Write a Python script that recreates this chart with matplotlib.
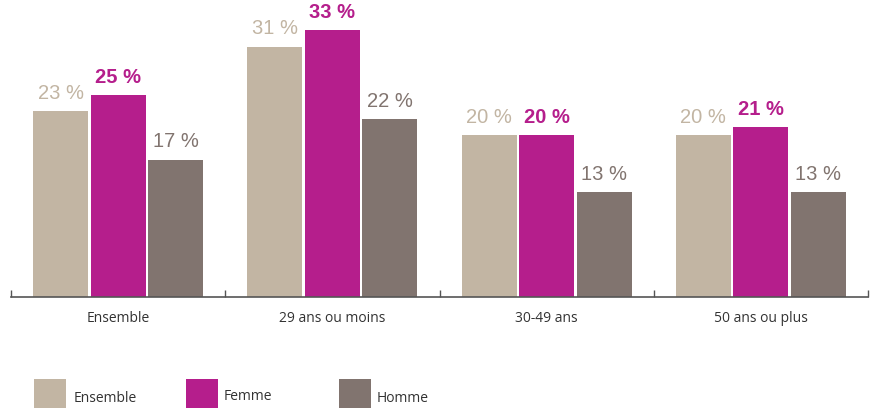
import matplotlib
matplotlib.use("Agg")
import matplotlib.pyplot as plt
from matplotlib.patches import Rectangle
import numpy as np

categories = ["Ensemble", "29 ans ou moins", "30-49 ans", "50 ans ou plus"]
series_names = ["Ensemble", "Femme", "Homme"]
ensemble = [23, 31, 20, 20]
femme = [25, 33, 20, 21]
homme = [17, 22, 13, 13]
colors = ["#C2B5A3", "#B51E8C", "#81746F"]

W, H = 871, 408
fig = plt.figure(figsize=(W / 100, H / 100), dpi=100)

x0, x1 = 11, 868
ybase = 297
ax = fig.add_axes([x0 / W, (H - ybase) / H, (x1 - x0) / W, ybase / H])

label_font = ["Liberation Sans", "DejaVu Sans"]
text_font = ["Open Sans", "DejaVu Sans"]

x = np.arange(len(categories))
bw = 55 / 214.25
step = 57.5 / 214.25
for i, (vals, col) in enumerate(zip([ensemble, femme, homme], colors)):
    pos = x + (i - 1) * step
    ax.bar(pos, vals, width=bw, color=col, linewidth=0)
    for p, v in zip(pos, vals):
        ax.annotate(f"{v} %", (p, v), xytext=(0, 6), textcoords="offset points",
                    ha="center", va="bottom", color=col, fontsize=14.5,
                    fontweight="bold" if i == 1 else "normal", family=label_font)

ax.set_xlim(-0.5, 3.5)
ax.set_ylim(0, ybase / 8.08)
for s in ["top", "right", "left"]:
    ax.spines[s].set_visible(False)
ax.spines["bottom"].set_color("#555555")
ax.spines["bottom"].set_linewidth(1.2)
ax.set_yticks([])
ax.set_xticks(np.arange(-0.5, 3.6, 1.0), minor=False)
ax.set_xticklabels([])
ax.tick_params(axis="x", which="major", direction="in", length=5, color="#555555", width=1.0)
ax.set_xticks(x, minor=True)
ax.set_xticklabels(categories, minor=True, fontsize=10, color="#333333", family=text_font)
ax.tick_params(axis="x", which="minor", length=0, pad=10)

# legend drawn in pixel overlay
lax = fig.add_axes([0, 0, 1, 1])
lax.set_xlim(0, W)
lax.set_ylim(H, 0)
lax.axis("off")
legend_x = [34, 186, 339]
legend_tx = [74, 224, 377]
legend_ty = [398, 396, 398]
for name, col, lx, tx, ty in zip(series_names, colors, legend_x, legend_tx, legend_ty):
    lax.add_patch(Rectangle((lx, 379), 32, 32, color=col, linewidth=0))
    lax.text(tx, ty, name, ha="left", va="center", fontsize=10, color="#333333", family=text_font)

fig.savefig("out.png", dpi=100)
